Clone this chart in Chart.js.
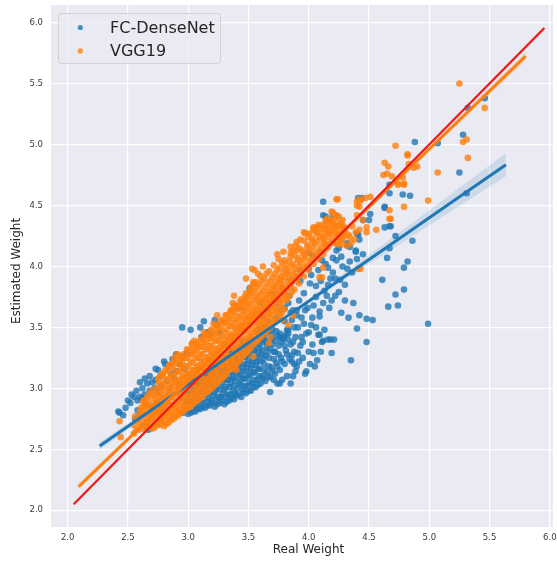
<!DOCTYPE html>
<html>
<head>
<meta charset="utf-8">
<script src="https://cdn.jsdelivr.net/npm/chart.js@4.4.1/dist/chart.umd.min.js"></script>
<style>
html,body{margin:0;padding:0;background:#ffffff;}
canvas{display:block;}
</style>
</head>
<body>
<canvas id="chart" width="557" height="561"></canvas>
<script>
// Axis ticks
const xTicks = [2.0, 2.5, 3.0, 3.5, 4.0, 4.5, 5.0, 5.5, 6.0];
const yTicks = [2.0, 2.5, 3.0, 3.5, 4.0, 4.5, 5.0, 5.5, 6.0];
const seriesNames = ['FC-DenseNet', 'VGG19'];
const axisTitles = ['Real Weight', 'Estimated Weight'];

// FC-DenseNet samples: [real weight, estimated weight]
const fcPoints = [
[2.42,2.81],[2.43,2.80],[2.46,2.78],[2.56,2.75],[2.59,2.77],[2.48,2.84],[2.50,2.90],[2.52,2.88],[2.53,2.95],[2.55,2.93],
[2.57,2.98],[2.58,2.90],[2.58,2.82],[2.60,2.93],[2.60,3.05],[2.62,3.00],[2.62,2.92],[2.64,2.95],[2.64,3.08],[2.65,2.86],
[2.66,3.04],[2.68,2.98],[2.68,3.10],[2.70,3.05],[2.70,2.84],[2.72,3.00],[2.73,3.07],[2.73,3.16],[2.74,2.88],[2.75,2.97],
[2.75,3.15],[2.77,3.10],[2.78,3.02],[2.78,2.84],[2.80,3.22],[2.81,3.20],[2.82,3.06],[2.82,2.88],[2.84,3.19],[2.85,3.00],
[2.86,3.12],[2.87,3.24],[2.88,3.08],[2.90,3.14],[2.90,3.28],[2.92,3.04],[2.93,3.20],[2.95,3.26],[2.95,3.50],[2.97,3.16],
[2.99,3.29],[2.66,2.67],[2.67,2.66],[2.74,2.71],[2.77,2.73],
[3.02,3.48],[3.10,3.50],[3.11,3.42],[3.13,3.55],[3.16,3.46],[3.18,3.44],[3.22,3.56],[3.24,3.52],[3.26,3.46],
[2.96,2.80],[2.97,2.86],[2.95,2.92],
[3.00,2.79],[3.01,2.85],[2.99,2.90],[3.00,2.96],
[3.04,2.81],[3.05,2.87],[3.03,2.93],[3.04,2.99],
[3.08,2.83],[3.09,2.89],[3.07,2.95],[3.08,3.01],
[3.12,2.85],[3.13,2.91],[3.11,2.97],[3.12,3.03],[3.13,3.09],
[3.16,2.86],[3.17,2.92],[3.15,2.98],[3.16,3.04],[3.17,3.10],
[3.20,2.88],[3.21,2.94],[3.19,3.00],[3.20,3.06],[3.21,3.12],[3.19,3.18],
[3.24,2.87],[3.25,2.93],[3.23,2.99],[3.24,3.05],[3.25,3.11],[3.23,3.17],
[3.28,2.90],[3.29,2.96],[3.27,3.02],[3.28,3.08],[3.29,3.14],[3.27,3.20],
[3.32,2.89],[3.33,2.95],[3.31,3.01],[3.32,3.07],[3.33,3.13],[3.31,3.19],[3.32,3.25],
[3.36,2.92],[3.37,2.98],[3.35,3.04],[3.36,3.10],[3.37,3.16],[3.35,3.22],[3.36,3.28],
[3.40,2.94],[3.41,3.00],[3.39,3.06],[3.40,3.12],[3.41,3.18],[3.39,3.24],[3.40,3.30],
[3.44,2.93],[3.45,2.99],[3.43,3.05],[3.44,3.11],[3.45,3.17],[3.43,3.23],[3.44,3.29],[3.45,3.35],
[3.48,2.96],[3.49,3.02],[3.47,3.08],[3.48,3.14],[3.49,3.20],[3.47,3.26],[3.48,3.32],[3.49,3.38],
[3.52,2.98],[3.53,3.04],[3.51,3.10],[3.52,3.16],[3.53,3.22],[3.51,3.28],[3.52,3.34],[3.53,3.40],
[3.56,3.01],[3.57,3.07],[3.55,3.13],[3.56,3.19],[3.57,3.25],[3.55,3.31],[3.56,3.37],
[3.60,3.04],[3.61,3.10],[3.59,3.16],[3.60,3.22],[3.61,3.28],[3.59,3.36],[3.60,3.44],
[3.64,3.06],[3.65,3.13],[3.63,3.20],[3.64,3.27],[3.65,3.34],[3.63,3.42],[3.64,3.50],
[3.68,3.09],[3.69,3.17],[3.67,3.25],[3.68,3.33],[3.69,3.41],
[3.72,3.12],[3.73,3.21],[3.71,3.30],[3.72,3.39],[3.73,3.47],
[3.76,3.15],[3.77,3.25],[3.75,3.35],[3.76,3.45],
[3.80,3.20],[3.81,3.31],[3.79,3.42],
[3.84,3.24],[3.85,3.36],[3.83,3.48],
[3.88,3.30],[3.89,3.42],
[2.98,2.82],[2.99,2.88],
[3.02,2.80],[3.03,2.83],[3.02,2.89],[3.01,2.95],
[3.06,2.81],[3.07,2.85],[3.06,2.91],[3.05,2.97],[3.06,3.03],
[3.10,2.83],[3.11,2.88],[3.10,2.94],[3.09,3.00],[3.10,3.06],
[3.14,2.84],[3.15,2.89],[3.14,2.95],[3.13,3.01],[3.14,3.07],[3.15,3.13],
[3.18,2.86],[3.19,2.90],[3.18,2.96],[3.17,3.02],[3.18,3.08],[3.19,3.14],
[3.22,2.85],[3.23,2.91],[3.22,2.97],[3.21,3.03],[3.22,3.09],[3.23,3.15],[3.22,3.21],
[3.26,2.88],[3.27,2.93],[3.26,2.99],[3.25,3.05],[3.26,3.11],[3.27,3.17],[3.26,3.23],
[3.30,2.87],[3.31,2.93],[3.30,2.99],[3.29,3.05],[3.30,3.11],[3.31,3.17],[3.30,3.23],
[3.34,2.90],[3.35,2.95],[3.34,3.01],[3.33,3.07],[3.34,3.13],[3.35,3.19],[3.34,3.25],[3.33,3.31],
[3.38,2.91],[3.39,2.96],[3.38,3.02],[3.37,3.08],[3.38,3.14],[3.39,3.20],[3.38,3.26],[3.37,3.32],
[3.42,2.95],[3.43,3.03],[3.42,3.09],[3.41,3.15],[3.42,3.21],[3.43,3.27],[3.42,3.33],
[3.46,2.97],[3.47,3.02],[3.46,3.08],[3.45,3.14],[3.46,3.20],[3.47,3.26],[3.46,3.32],[3.45,3.38],
[3.50,2.98],[3.51,3.05],[3.50,3.11],[3.49,3.17],[3.50,3.23],[3.51,3.29],[3.50,3.35],
[3.54,3.01],[3.55,3.07],[3.54,3.13],[3.53,3.19],[3.54,3.25],[3.55,3.31],[3.54,3.38],
[3.58,3.03],[3.59,3.10],[3.58,3.16],[3.57,3.22],[3.58,3.28],[3.59,3.33],[3.58,3.41],
[3.62,3.08],[3.63,3.15],[3.62,3.24],[3.61,3.31],[3.62,3.38],
[3.66,3.10],[3.67,3.18],[3.66,3.30],[3.65,3.38],[3.66,3.46],
[3.70,3.14],[3.71,3.24],[3.70,3.36],[3.69,3.44],
[3.74,3.18],[3.75,3.28],[3.74,3.43],
[3.78,3.22],[3.77,3.38],
[3.82,3.28],[3.81,3.44],
[3.92,3.22],[3.95,3.38],[3.98,3.45],[4.01,3.20],[4.03,3.36],[4.06,3.50],[4.10,3.30],[4.13,3.48],[3.88,3.50],[3.94,3.58],
[3.99,3.66],[4.06,3.75],[4.13,3.80],[4.18,3.90],[3.80,3.55],[3.74,3.58],[3.96,3.78],[4.02,3.93],[4.10,4.12],[4.28,4.00],
[4.30,3.85],[4.36,3.95],[4.45,4.10],[4.37,3.70],[4.30,3.72],
[3.68,2.97],[3.74,3.04],[3.78,3.07],[3.71,3.07],[3.76,3.04],[3.82,3.10],[3.79,3.40],[3.68,3.40],[3.54,3.35],[4.09,3.44],
[3.42,3.66],[3.51,3.82],[3.56,3.60],[3.58,3.48],[3.60,3.70],[3.62,3.40],[3.62,3.50],[3.57,3.46],[3.62,3.59],[3.66,3.64],
[3.66,3.55],[3.70,3.48],[3.70,3.78],[3.72,3.30],[3.74,3.70],[3.76,3.42],[3.76,3.64],[3.78,3.82],[3.80,3.35],[3.80,3.66],
[3.82,3.48],[3.83,3.45],[3.83,3.40],[3.83,3.70],[3.84,3.76],[3.85,3.62],[3.86,3.22],[3.86,3.27],[3.86,3.89],[3.86,3.56],
[3.87,3.38],[3.87,3.10],[3.87,3.64],[3.85,3.04],[3.88,3.20],[3.89,3.14],[3.90,3.18],[3.90,3.60],[3.90,3.64],[3.91,3.29],
[3.91,3.50],[3.92,3.72],[3.93,3.35],[3.93,3.88],[3.93,3.97],[3.94,3.42],[3.95,3.25],[3.96,3.53],[3.97,3.12],[3.97,3.64],
[3.98,3.14],[4.00,3.30],[4.00,3.46],[4.00,3.98],[4.00,4.11],[4.01,3.86],[4.02,3.52],[4.03,3.58],[4.04,3.29],[4.04,3.68],
[4.04,4.09],[4.05,3.18],[4.06,3.84],[4.07,3.23],[4.08,3.44],[4.08,3.97],[4.09,3.63],[4.09,3.59],[4.10,3.88],[4.11,3.38],
[4.11,4.05],[4.12,3.70],[4.12,3.39],[4.12,4.42],[4.12,4.53],[4.14,4.02],[4.14,4.41],[4.15,3.76],[4.16,3.40],[4.16,3.85],
[4.16,3.99],[4.17,3.66],[4.18,3.40],[4.19,3.29],[4.19,3.72],[4.20,3.95],[4.20,4.07],[4.20,4.42],[4.21,3.40],[4.22,3.76],
[4.22,3.90],[4.23,4.05],[4.23,4.13],[4.25,3.79],[4.25,4.15],[4.26,3.89],[4.27,3.62],[4.27,4.08],[4.32,3.98],[4.32,4.17],
[4.32,4.19],[4.33,3.58],[4.34,4.04],[4.34,4.16],[4.35,3.23],[4.39,4.12],[4.39,4.13],[4.40,3.49],[4.40,4.06],[4.40,4.27],
[4.41,4.26],[4.41,4.56],[4.42,3.60],[4.42,4.22],[4.44,4.56],[4.45,4.38],[4.48,3.38],[4.48,3.57],[4.50,4.38],[4.51,4.43],
[4.53,3.56],[4.61,3.89],[4.63,4.32],[4.63,4.48],[4.63,4.49],[4.65,4.07],[4.66,3.67],[4.67,4.15],[4.67,4.33],[4.67,4.60],
[4.67,4.67],[4.68,4.33],[4.72,3.77],[4.72,4.25],[4.74,3.68],[4.78,4.59],[4.79,3.81],[4.79,3.99],[4.82,4.04],[4.84,4.58],
[4.86,4.21],[4.88,5.02],[4.99,3.53],[5.07,5.01],[5.25,4.77],[5.28,5.08],[5.31,4.60],[5.32,5.30],[5.46,5.38]
];

// VGG19 samples: [real weight, estimated weight]
const vggPoints = [
[2.55,2.70],[2.56,2.77],
[2.59,2.66],[2.58,2.74],[2.60,2.81],
[2.62,2.69],[2.63,2.75],[2.61,2.84],[2.63,2.89],
[2.66,2.71],[2.67,2.78],[2.65,2.86],[2.66,2.93],
[2.70,2.67],[2.69,2.74],[2.71,2.81],[2.70,2.86],[2.69,2.94],[2.71,2.99],
[2.74,2.70],[2.73,2.77],[2.75,2.82],[2.74,2.89],[2.73,2.95],[2.75,3.02],
[2.78,2.72],[2.77,2.79],[2.79,2.85],[2.78,2.91],[2.77,2.96],[2.79,3.03],[2.78,3.11],
[2.82,2.71],[2.81,2.77],[2.83,2.83],[2.82,2.88],[2.81,2.94],[2.83,3.00],[2.82,3.07],[2.81,3.15],
[2.86,2.74],[2.85,2.80],[2.87,2.86],[2.86,2.93],[2.85,2.98],[2.87,3.05],[2.86,3.11],[2.85,3.18],
[2.90,2.77],[2.89,2.84],[2.91,2.89],[2.90,2.95],[2.89,3.02],[2.91,3.07],[2.90,3.13],[2.89,3.21],[2.91,3.28],
[2.94,2.80],[2.93,2.86],[2.95,2.92],[2.94,2.99],[2.93,3.04],[2.95,3.10],[2.94,3.17],[2.93,3.23],
[2.98,2.83],[2.97,2.88],[2.99,2.94],[2.98,3.00],[2.97,3.07],[2.99,3.12],[2.98,3.18],[2.97,3.25],[2.99,3.32],
[3.02,2.85],[3.01,2.91],[3.03,2.97],[3.02,3.04],[3.01,3.09],[3.03,3.15],[3.02,3.22],[3.01,3.28],[3.03,3.36],
[3.06,2.89],[3.05,2.94],[3.07,3.00],[3.06,3.07],[3.05,3.12],[3.07,3.18],[3.06,3.25],[3.05,3.30],[3.07,3.36],
[3.10,2.92],[3.09,2.98],[3.11,3.05],[3.10,3.10],[3.09,3.16],[3.11,3.23],[3.10,3.28],[3.09,3.34],[3.11,3.41],
[3.14,2.96],[3.13,3.01],[3.15,3.07],[3.14,3.14],[3.13,3.19],[3.15,3.25],[3.14,3.32],[3.13,3.37],[3.15,3.44],
[3.18,2.99],[3.17,3.05],[3.19,3.12],[3.18,3.17],[3.17,3.23],[3.19,3.30],[3.18,3.35],[3.17,3.41],[3.19,3.48],
[3.22,3.03],[3.21,3.08],[3.23,3.14],[3.22,3.21],[3.21,3.26],[3.23,3.32],[3.22,3.39],[3.21,3.44],[3.23,3.52],
[3.26,3.06],[3.25,3.12],[3.27,3.19],[3.26,3.24],[3.25,3.30],[3.27,3.37],[3.26,3.42],[3.25,3.48],[3.27,3.55],
[3.30,3.10],[3.29,3.17],[3.31,3.22],[3.30,3.28],[3.29,3.35],[3.31,3.40],[3.30,3.46],[3.29,3.53],[3.31,3.60],
[3.34,3.15],[3.33,3.20],[3.35,3.26],[3.34,3.33],[3.33,3.38],[3.35,3.44],[3.34,3.51],[3.33,3.56],[3.35,3.63],
[3.38,3.18],[3.37,3.24],[3.39,3.31],[3.38,3.36],[3.37,3.42],[3.39,3.49],[3.38,3.54],[3.37,3.60],[3.39,3.67],
[3.42,3.22],[3.41,3.29],[3.43,3.34],[3.42,3.40],[3.41,3.47],[3.43,3.52],[3.42,3.58],[3.41,3.65],[3.43,3.71],
[3.46,3.27],[3.45,3.33],[3.47,3.39],[3.46,3.46],[3.45,3.51],[3.47,3.57],[3.46,3.64],[3.45,3.69],[3.47,3.75],
[3.50,3.31],[3.49,3.38],[3.51,3.43],[3.50,3.49],[3.49,3.56],[3.51,3.61],[3.50,3.67],[3.49,3.74],[3.51,3.80],
[3.54,3.36],[3.53,3.41],[3.55,3.47],[3.54,3.54],[3.53,3.59],[3.55,3.65],[3.54,3.72],[3.53,3.78],[3.55,3.86],
[3.58,3.40],[3.57,3.46],[3.59,3.53],[3.58,3.58],[3.57,3.64],[3.59,3.71],[3.58,3.76],[3.57,3.83],
[3.62,3.44],[3.61,3.51],[3.63,3.56],[3.62,3.62],[3.61,3.69],[3.63,3.74],[3.62,3.80],[3.61,3.88],
[3.66,3.48],[3.65,3.55],[3.67,3.61],[3.66,3.67],[3.65,3.73],[3.67,3.79],[3.66,3.86],[3.65,3.94],
[3.70,3.53],[3.69,3.60],[3.71,3.66],[3.70,3.72],[3.69,3.78],[3.71,3.84],[3.70,3.91],
[3.74,3.57],[3.73,3.64],[3.75,3.71],[3.74,3.77],[3.73,3.83],[3.75,3.90],[3.74,3.97],
[3.78,3.62],[3.77,3.70],[3.79,3.76],[3.78,3.82],[3.77,3.88],[3.79,3.95],[3.78,4.03],
[3.82,3.74],[3.81,3.81],[3.83,3.88],[3.82,3.94],[3.81,4.01],
[3.86,3.79],[3.85,3.86],[3.87,3.93],[3.86,4.00],[3.85,4.08],
[3.90,3.91],[3.89,3.98],[3.91,4.05],[3.90,4.13],
[3.94,3.96],[3.93,4.03],[3.95,4.11],
[3.98,4.01],[3.97,4.08],[3.99,4.16],
[4.02,4.06],[4.01,4.13],[4.03,4.21],
[4.06,4.11],[4.05,4.19],[4.07,4.27],
[4.10,4.16],[4.09,4.24],[4.11,4.31],
[4.14,4.14],[4.13,4.22],[4.15,4.30],[4.14,4.37],
[4.18,4.19],[4.17,4.27],[4.19,4.35],
[4.22,4.24],[4.21,4.32],[4.23,4.40],
[4.26,4.21],[4.25,4.29],[4.27,4.36],
[4.30,4.25],[4.29,4.33],
[2.60,2.71],[2.61,2.78],
[2.64,2.66],[2.65,2.72],[2.64,2.79],[2.63,2.86],
[2.68,2.69],[2.69,2.75],[2.68,2.82],[2.67,2.89],[2.68,2.96],
[2.72,2.68],[2.73,2.73],[2.72,2.79],[2.71,2.85],[2.72,2.91],[2.73,2.97],
[2.76,2.70],[2.77,2.75],[2.76,2.81],[2.75,2.87],[2.76,2.93],[2.77,2.99],[2.76,3.06],
[2.80,2.69],[2.81,2.74],[2.80,2.80],[2.79,2.86],[2.80,2.92],[2.81,2.98],[2.80,3.04],[2.79,3.11],
[2.84,2.72],[2.85,2.77],[2.84,2.83],[2.83,2.89],[2.84,2.95],[2.85,3.02],[2.84,3.08],[2.83,3.14],
[2.88,2.75],[2.89,2.81],[2.88,2.87],[2.87,2.92],[2.88,2.98],[2.89,3.05],[2.88,3.10],[2.87,3.17],[2.88,3.24],
[2.92,2.78],[2.93,2.83],[2.92,2.90],[2.91,2.96],[2.92,3.01],[2.93,3.07],[2.92,3.14],[2.91,3.20],[2.92,3.26],
[2.96,2.81],[2.97,2.85],[2.96,2.91],[2.95,2.97],[2.96,3.03],[2.97,3.09],[2.96,3.15],[2.95,3.21],[2.96,3.28],
[3.00,2.84],[3.01,2.88],[3.00,2.94],[2.99,3.00],[3.00,3.06],[3.01,3.12],[3.00,3.18],[2.99,3.25],[3.00,3.31],
[3.04,2.87],[3.05,2.92],[3.04,2.97],[3.03,3.03],[3.04,3.09],[3.05,3.15],[3.04,3.21],[3.03,3.28],[3.04,3.33],[3.05,3.39],
[3.08,2.90],[3.09,2.95],[3.08,3.01],[3.07,3.07],[3.08,3.13],[3.09,3.19],[3.08,3.25],[3.07,3.31],[3.08,3.38],
[3.12,2.93],[3.13,2.99],[3.12,3.04],[3.11,3.10],[3.12,3.16],[3.13,3.22],[3.12,3.28],[3.11,3.34],[3.12,3.40],[3.13,3.46],
[3.16,2.97],[3.17,3.02],[3.16,3.08],[3.15,3.14],[3.16,3.20],[3.17,3.26],[3.16,3.32],[3.15,3.38],[3.16,3.44],
[3.20,3.00],[3.21,3.06],[3.20,3.11],[3.19,3.17],[3.20,3.23],[3.21,3.29],[3.20,3.35],[3.19,3.41],[3.20,3.47],[3.21,3.53],
[3.24,3.04],[3.25,3.09],[3.24,3.15],[3.23,3.21],[3.24,3.27],[3.25,3.33],[3.24,3.39],[3.23,3.45],[3.24,3.51],
[3.28,3.08],[3.29,3.13],[3.28,3.19],[3.27,3.25],[3.28,3.31],[3.29,3.37],[3.28,3.43],[3.27,3.49],[3.28,3.56],
[3.32,3.12],[3.33,3.18],[3.32,3.23],[3.31,3.29],[3.32,3.36],[3.33,3.42],[3.32,3.48],[3.31,3.54],[3.32,3.60],
[3.36,3.16],[3.37,3.22],[3.36,3.27],[3.35,3.33],[3.36,3.39],[3.37,3.45],[3.36,3.51],[3.35,3.57],[3.36,3.64],[3.37,3.70],
[3.40,3.20],[3.41,3.26],[3.40,3.31],[3.39,3.37],[3.40,3.43],[3.41,3.50],[3.40,3.56],[3.39,3.62],[3.40,3.68],
[3.44,3.24],[3.45,3.30],[3.44,3.36],[3.43,3.42],[3.44,3.48],[3.45,3.54],[3.44,3.60],[3.43,3.67],[3.44,3.73],
[3.48,3.29],[3.49,3.35],[3.48,3.41],[3.47,3.47],[3.48,3.53],[3.49,3.59],[3.48,3.65],[3.47,3.71],[3.48,3.78],
[3.52,3.33],[3.53,3.39],[3.52,3.45],[3.51,3.51],[3.52,3.57],[3.53,3.63],[3.52,3.69],[3.51,3.76],[3.52,3.83],
[3.56,3.38],[3.57,3.44],[3.56,3.50],[3.55,3.56],[3.56,3.62],[3.57,3.68],[3.56,3.74],[3.55,3.80],[3.56,3.87],
[3.60,3.42],[3.61,3.48],[3.60,3.54],[3.59,3.60],[3.60,3.66],[3.61,3.72],[3.60,3.78],[3.59,3.85],[3.60,3.92],
[3.64,3.46],[3.65,3.52],[3.64,3.59],[3.63,3.65],[3.64,3.71],[3.65,3.77],[3.64,3.83],[3.63,3.90],
[3.68,3.51],[3.69,3.57],[3.68,3.63],[3.67,3.70],[3.68,3.76],[3.69,3.82],[3.68,3.88],[3.67,3.96],
[3.72,3.55],[3.73,3.62],[3.72,3.68],[3.71,3.74],[3.72,3.81],[3.73,3.87],[3.72,3.94],[3.71,4.01],
[3.76,3.60],[3.77,3.66],[3.76,3.73],[3.75,3.79],[3.76,3.86],[3.77,3.92],[3.76,3.99],[3.75,4.06],
[3.80,3.65],[3.81,3.72],[3.80,3.78],[3.79,3.85],[3.80,3.91],[3.81,3.98],[3.80,4.05],[3.79,4.12],
[3.84,3.76],[3.85,3.83],[3.84,3.90],[3.83,3.96],[3.84,4.04],[3.85,4.11],
[3.88,3.81],[3.89,3.88],[3.88,3.95],[3.87,4.02],[3.88,4.09],[3.89,4.17],
[3.92,3.86],[3.93,3.93],[3.92,4.00],[3.91,4.07],[3.92,4.15],[3.93,4.22],
[3.96,3.92],[3.97,3.99],[3.96,4.06],[3.95,4.13],[3.96,4.21],
[4.00,3.97],[4.01,4.04],[4.00,4.11],[3.99,4.18],[4.00,4.24],
[4.04,4.02],[4.05,4.09],[4.04,4.16],[4.03,4.23],[4.04,4.29],
[4.08,4.06],[4.09,4.13],[4.08,4.21],[4.07,4.28],[4.08,4.34],
[4.12,4.10],[4.13,4.19],[4.12,4.27],[4.11,4.34],
[4.16,4.16],[4.17,4.24],[4.16,4.32],[4.15,4.39],
[4.20,4.20],[4.21,4.28],[4.20,4.36],
[4.24,4.18],[4.25,4.26],[4.24,4.33],[4.23,4.42],
[4.28,4.23],[4.29,4.31],[4.28,4.38],
[2.43,2.73],[2.44,2.60],[2.55,2.63],[2.57,2.66],[2.66,2.70],[2.63,2.82],[2.66,2.85],[2.63,2.90],[2.70,2.78],[2.77,2.77],
[2.82,2.80],[2.88,2.78],[2.92,2.81],[2.75,3.08],[2.78,3.12],[2.84,3.19],[2.86,3.20],[2.91,3.26],[3.03,3.37],[3.07,3.36],
[3.24,3.60],[3.38,3.68],[3.46,3.63],[3.49,3.70],[3.36,3.64],[3.38,3.76],[3.40,3.15],[3.54,3.26],[3.53,3.98],[3.55,3.97],
[3.54,3.87],[3.48,3.90],[3.58,3.94],[3.62,4.00],[3.68,3.42],[3.67,3.37],[3.74,4.10],[3.78,3.56],[3.83,3.52],[3.87,3.60],
[3.85,4.16],[3.87,4.13],[3.90,4.20],[3.96,4.28],[3.97,4.27],[4.00,4.27],[4.04,4.31],[4.04,4.32],[4.07,4.32],[4.08,4.32],
[4.14,4.32],[4.15,4.37],[4.18,4.38],[4.18,4.37],[4.23,4.35],[4.26,4.34],[4.29,4.28],[4.09,3.91],[4.11,3.91],[4.12,3.99],
[4.12,4.24],[4.14,4.18],[4.16,4.28],[4.19,4.45],[4.20,4.30],[4.20,4.44],[4.22,4.19],[4.22,4.42],[4.23,4.55],[4.24,4.26],
[4.24,4.55],[4.25,4.41],[4.27,4.22],[4.28,4.18],[4.30,4.30],[4.32,4.17],[4.33,4.26],[4.34,4.24],[4.35,4.19],[4.36,4.33],
[4.38,4.22],[4.39,4.28],[4.40,4.42],[4.40,4.50],[4.40,4.53],[4.41,3.98],[4.42,4.30],[4.42,4.49],[4.42,4.55],[4.43,3.98],
[4.43,4.54],[4.45,4.38],[4.47,4.56],[4.48,4.28],[4.48,4.32],[4.51,4.57],[4.56,4.30],[4.62,4.75],[4.63,4.85],[4.65,4.76],
[4.66,4.82],[4.67,4.46],[4.67,4.39],[4.68,4.39],[4.69,4.74],[4.72,4.99],[4.74,4.67],[4.74,4.68],[4.78,4.73],[4.79,4.49],
[4.79,4.67],[4.79,4.68],[4.82,4.91],[4.82,4.92],[4.83,4.84],[4.87,4.81],[4.90,4.82],[4.99,4.54],[5.07,4.77],[5.25,5.50],
[5.28,5.02],[5.31,5.04],[5.32,4.89],[5.46,5.30]
];

// Regression fits with their confidence bands
const fcFitReal  = [2.265, 2.8, 3.3, 3.8, 4.3, 4.8, 5.2, 5.636];
const fcFitEst   = [2.528, 2.894, 3.236, 3.578, 3.920, 4.262, 4.536, 4.834];
const fcBandLow  = [2.495, 2.878, 3.226, 3.564, 3.892, 4.210, 4.464, 4.739];
const fcBandHigh = [2.561, 2.910, 3.246, 3.592, 3.948, 4.314, 4.608, 4.929];
const vggFitReal  = [2.09, 3.0, 4.0, 5.0, 5.80];
const vggFitEst   = [2.193, 3.059, 4.011, 4.963, 5.725];
const vggBandLow  = [2.165, 3.050, 4.002, 4.941, 5.687];
const vggBandHigh = [2.221, 3.068, 4.020, 4.985, 5.763];
// Ideal estimate (estimated = real)
const idealLine = [2.05, 5.955];

const BLUE = 'rgba(31,119,180,0.8)';
const ORANGE = 'rgba(255,127,14,0.8)';
const FONT = 'DejaVu Sans';

const toXY = pts => pts.map(p => ({x: p[0], y: p[1]}));
const zipXY = (xs, ys) => xs.map((x, i) => ({x: x, y: ys[i]}));

const plotBackground = {
  id: 'plotBackground',
  beforeDraw(chart) {
    const {ctx, chartArea: a} = chart;
    ctx.save();
    ctx.fillStyle = '#eaeaf2';
    ctx.fillRect(a.left, a.top, a.right - a.left, a.bottom - a.top);
    ctx.restore();
  }
};

// Axis titles, centred on the full axes box (which runs past the right edge of the canvas)
const axisTitlePlugin = {
  id: 'axisTitlePlugin',
  afterDraw(chart) {
    const ctx = chart.ctx;
    ctx.save();
    ctx.fillStyle = '#262626';
    ctx.font = '12px "' + FONT + '"';
    ctx.textAlign = 'center';
    ctx.textBaseline = 'middle';
    ctx.fillText(axisTitles[0], 308.5, 550);
    ctx.translate(16.7, 271);
    ctx.rotate(-Math.PI / 2);
    ctx.fillText(axisTitles[1], 0, 0);
    ctx.restore();
  }
};

const insetLegend = {
  id: 'insetLegend',
  afterDraw(chart) {
    const ctx = chart.ctx;
    const a = chart.chartArea;
    const bx = a.left + 7.5, by = a.top + 8.5, bw = 162, bh = 50, r = 3;
    ctx.save();
    ctx.beginPath();
    ctx.moveTo(bx + r, by);
    ctx.lineTo(bx + bw - r, by);
    ctx.arcTo(bx + bw, by, bx + bw, by + r, r);
    ctx.lineTo(bx + bw, by + bh - r);
    ctx.arcTo(bx + bw, by + bh, bx + bw - r, by + bh, r);
    ctx.lineTo(bx + r, by + bh);
    ctx.arcTo(bx, by + bh, bx, by + bh - r, r);
    ctx.lineTo(bx, by + r);
    ctx.arcTo(bx, by, bx + r, by, r);
    ctx.closePath();
    ctx.fillStyle = 'rgba(234,234,242,0.8)';
    ctx.fill();
    ctx.strokeStyle = 'rgba(204,204,204,0.8)';
    ctx.lineWidth = 1;
    ctx.stroke();
    const entries = [chart.data.datasets[0], chart.data.datasets[3]];
    ctx.font = '16px "' + FONT + '"';
    ctx.textBaseline = 'alphabetic';
    ctx.textAlign = 'left';
    entries.forEach((ds, i) => {
      const cy = a.top + 22.5 + i * 23.4;
      ctx.beginPath();
      ctx.arc(a.left + 29.3, cy, 2.6, 0, Math.PI * 2);
      ctx.fillStyle = ds.backgroundColor;
      ctx.fill();
      ctx.fillStyle = '#262626';
      ctx.fillText(ds.label, a.left + 59, cy + 5.3);
    });
    ctx.restore();
  }
};

const tickFont = {family: FONT, size: 8.5};
const R = 3.3;

new Chart(document.getElementById('chart'), {
  type: 'scatter',
  data: {
    datasets: [
      {label: seriesNames[0], data: toXY(fcPoints), backgroundColor: BLUE, borderWidth: 0, pointRadius: R, order: 9},
      {type: 'line', label: 'fc-low', data: zipXY(fcFitReal, fcBandLow), borderWidth: 0, pointRadius: 0, fill: false, order: 8},
      {type: 'line', label: 'fc-high', data: zipXY(fcFitReal, fcBandHigh), borderWidth: 0, pointRadius: 0,
        fill: '-1', backgroundColor: 'rgba(31,119,180,0.15)', order: 7},
      {label: seriesNames[1], data: toXY(vggPoints), backgroundColor: ORANGE, borderWidth: 0, pointRadius: R, order: 6},
      {type: 'line', label: 'vgg-low', data: zipXY(vggFitReal, vggBandLow), borderWidth: 0, pointRadius: 0, fill: false, order: 5},
      {type: 'line', label: 'vgg-high', data: zipXY(vggFitReal, vggBandHigh), borderWidth: 0, pointRadius: 0,
        fill: '-1', backgroundColor: 'rgba(255,127,14,0.15)', order: 4},
      {type: 'line', label: 'fc-fit', data: zipXY(fcFitReal, fcFitEst), borderColor: '#1f77b4', borderWidth: 3,
        pointRadius: 0, fill: false, order: 3},
      {type: 'line', label: 'vgg-fit', data: zipXY(vggFitReal, vggFitEst), borderColor: '#ff7f0e', borderWidth: 3,
        pointRadius: 0, fill: false, order: 2},
      {type: 'line', label: 'ideal', data: zipXY(idealLine, idealLine), borderColor: '#f01818', borderWidth: 2.3,
        pointRadius: 0, fill: false, order: 1}
    ]
  },
  options: {
    responsive: false,
    animation: false,
    devicePixelRatio: 1,
    layout: {padding: {left: 0, right: 4, top: 5, bottom: 0}},
    plugins: {legend: {display: false}, tooltip: {enabled: false}},
    scales: {
      x: {
        type: 'linear',
        min: 1.8615,
        max: 6.0265,
        afterBuildTicks: s => { s.ticks = xTicks.map(v => ({value: v})); },
        afterFit: s => { s.height = 34; s.paddingLeft = 0; s.paddingRight = 0; },
        grid: {color: '#ffffff', lineWidth: 1.2, drawTicks: false},
        border: {display: false},
        ticks: {padding: 6, color: '#3a3a3a', font: tickFont, maxRotation: 0, autoSkip: false,
          callback: v => v.toFixed(1)}
      },
      y: {
        type: 'linear',
        min: 1.863,
        max: 6.144,
        afterBuildTicks: s => { s.ticks = yTicks.map(v => ({value: v})); },
        afterFit: s => { s.width = 51; s.paddingTop = 0; s.paddingBottom = 0; },
        grid: {color: '#ffffff', lineWidth: 1.2, drawTicks: false},
        border: {display: false},
        ticks: {padding: 8, color: '#3a3a3a', font: tickFont, autoSkip: false,
          callback: v => v.toFixed(1)}
      }
    }
  },
  plugins: [plotBackground, axisTitlePlugin, insetLegend]
});
</script>
</body>
</html>
